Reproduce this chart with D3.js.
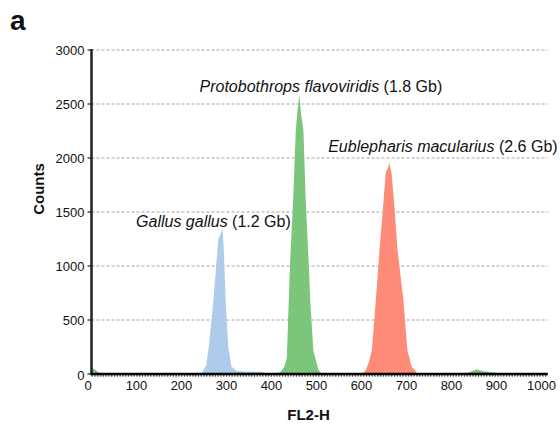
<!DOCTYPE html>
<html>
<head>
  <meta charset='utf-8'>
  <title>FL2-H histogram</title>
  <script src="https://cdnjs.cloudflare.com/ajax/libs/d3/7.8.5/d3.min.js"></script>
  <style>
    body { margin: 0; background: white; }
    text { font-family: Arial, 'Liberation Sans', sans-serif; fill: #111; }
    .tick-label { font-size: 13px; }
    .peak-label { font-size: 16px; }
    .axis-title { font-size: 15px; font-weight: bold; }
  </style>
</head>
<body>
  <svg width="560" height="428" id="chart"></svg>
  <script>

    // histogram bins: [FL2-H, counts]
    const gallus = [[240, 0], [245, 10], [255, 80], [262, 300], [271, 690], [278, 1050], [282, 1250],
      [286, 1290], [291, 1350], [294, 1150], [298, 690], [304, 250], [311, 70], [322, 30],
      [340, 22], [381, 20], [385, 0]];
    const protobothrops = [[0, 60], [10, 35], [20, 0], [412, 0], [420, 20], [428, 60], [434, 150],
      [441, 1000], [448, 1610], [454, 2260], [458, 2450], [462, 2580], [466, 2400], [471, 2250],
      [476, 1610], [483, 1000], [486, 690], [493, 220], [504, 40], [512, 0],
      [830, 0], [845, 25], [856, 45], [868, 28], [885, 18], [905, 8], [912, 0]];
    const eublepharis = [[602, 0], [610, 40], [617, 120], [623, 220], [632, 690], [640, 1150],
      [647, 1500], [654, 1870], [658, 1900], [662, 1955], [667, 1850], [672, 1610], [674, 1500],
      [680, 1150], [687, 900], [693, 690], [702, 220], [712, 60], [719, 37], [724, 0]];

    const seriesNames = ['Gallus gallus', 'Protobothrops flavoviridis', 'Eublepharis macularius'];
    const genomeSizes = ['(1.2 Gb)', '(1.8 Gb)', '(2.6 Gb)'];
    const seriesColors = ['#aecbec', '#7cc67b', '#fd8b77'];
    // label anchor (start of text) in data units
    const labelAt = [[99, 1361], [240, 2611], [526, 2058]];

    const xTicks = [0, 100, 200, 300, 400, 500, 600, 700, 800, 900, 1000];
    const yTicks = [0, 500, 1000, 1500, 2000, 2500, 3000];

    const svg = d3.select('#chart');
    const x = d3.scaleLinear().domain([0, 1000]).range([91.5, 541.5]);
    const y = d3.scaleLinear().domain([0, 3000]).range([374, 50]);
    const xEnd = x(1014);

    // panel letter
    svg.append('text')
      .attr('x', 10).attr('y', 30)
      .style('font-size', '28px').style('font-weight', 'bold')
      .text('a');

    // dashed grid
    svg.append('g')
      .selectAll('line')
      .data(yTicks.filter(d => d > 0))
      .join('line')
      .attr('x1', x(0)).attr('x2', xEnd)
      .attr('y1', d => y(d)).attr('y2', d => y(d))
      .attr('stroke', '#a3a3a3')
      .attr('stroke-width', 1)
      .attr('stroke-dasharray', '3,2');

    // peaks
    const area = d3.area()
      .x(d => x(d[0]))
      .y0(y(0))
      .y1(d => y(d[1]));

    svg.append('g')
      .selectAll('path')
      .data([gallus, protobothrops, eublepharis])
      .join('path')
      .attr('d', area)
      .attr('fill', (d, i) => seriesColors[i]);

    // y axis
    const yAxis = svg.append('g');
    yAxis.append('line')
      .attr('x1', x(0)).attr('x2', x(0))
      .attr('y1', y(3000) - 1).attr('y2', y(0))
      .attr('stroke', '#231f20').attr('stroke-width', 2.5);
    yAxis.selectAll('.ytick')
      .data(yTicks)
      .join('line')
      .attr('class', 'ytick')
      .attr('x1', x(0) - 4).attr('x2', x(0))
      .attr('y1', d => y(d)).attr('y2', d => y(d))
      .attr('stroke', '#231f20').attr('stroke-width', 1.2);
    yAxis.selectAll('text')
      .data(yTicks)
      .join('text')
      .attr('class', 'tick-label')
      .attr('x', x(0) - 7)
      .attr('y', d => y(d) + 4.5 + (d === 0 ? 1.5 : 0))
      .attr('text-anchor', 'end')
      .text(d => d);

    // x axis
    const xAxis = svg.append('g');
    xAxis.append('line')
      .attr('x1', x(0) - 1).attr('x2', xEnd)
      .attr('y1', y(0)).attr('y2', y(0))
      .attr('stroke', '#000').attr('stroke-width', 2.5);
    xAxis.append('line')
      .attr('x1', x(0)).attr('x2', xEnd)
      .attr('y1', y(0) + 1.8).attr('y2', y(0) + 1.8)
      .attr('stroke', '#000').attr('stroke-width', 1.3)
      .attr('stroke-dasharray', '1.2,1.6');
    xAxis.selectAll('text')
      .data(xTicks)
      .join('text')
      .attr('class', 'tick-label')
      .attr('x', d => x(d) + (d === 0 ? -3.5 : 0))
      .attr('y', y(0) + 16)
      .attr('text-anchor', 'middle')
      .text(d => d);

    // axis titles
    svg.append('text')
      .attr('class', 'axis-title')
      .attr('transform', 'translate(43.5, 189) rotate(-90)')
      .attr('text-anchor', 'middle')
      .text('Counts');
    svg.append('text')
      .attr('class', 'axis-title')
      .attr('x', 308.5).attr('y', 420)
      .attr('text-anchor', 'middle')
      .text('FL2-H');

    // peak labels
    const labels = svg.append('g')
      .selectAll('text')
      .data(seriesNames)
      .join('text')
      .attr('class', 'peak-label')
      .attr('x', (d, i) => x(labelAt[i][0]))
      .attr('y', (d, i) => y(labelAt[i][1]));
    labels.append('tspan')
      .style('font-style', 'italic')
      .text(d => d);
    labels.append('tspan')
      .text((d, i) => ' ' + genomeSizes[i]);

  </script>
</body>
</html>
